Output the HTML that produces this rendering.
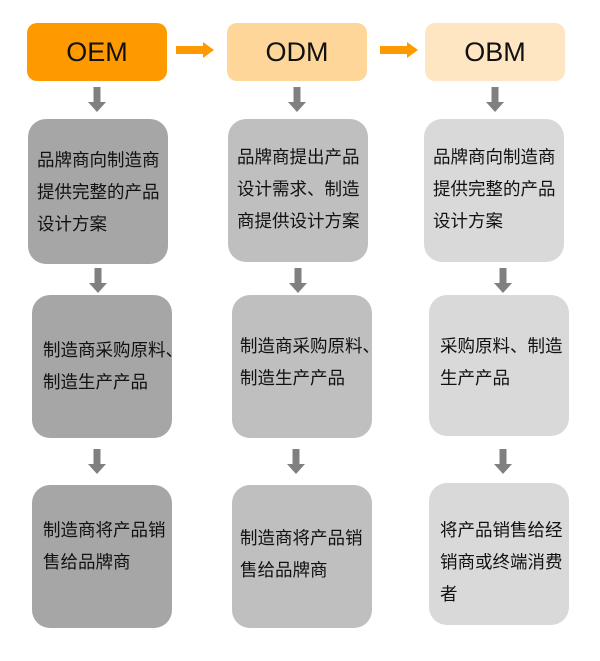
<!DOCTYPE html>
<html><head><meta charset="utf-8"><style>
body{margin:0;width:600px;height:661px;background:#fff;position:relative;overflow:hidden;font-family:"Liberation Sans","Noto Sans CJK SC",sans-serif}
.b{position:absolute;border-radius:18px}
.h{position:absolute;border-radius:10px;height:58px;width:140px;top:23px;font-size:27px;color:#111;text-align:center;line-height:58px}
.t{position:absolute;font-size:17.5px;line-height:32px;color:#111;white-space:nowrap}
</style></head><body>
<div class="h" style="left:27px;background:#ff9900">OEM</div>
<div class="h" style="left:227px;background:#ffd699">ODM</div>
<div class="h" style="left:425px;background:#ffe6c2">OBM</div>
<svg width="600" height="661" style="position:absolute;left:0;top:0">
<g fill="#ff9900">
<rect x="176" y="46" width="28" height="8"/><polygon points="203,42 214,50 203,58"/>
<rect x="380" y="46" width="28" height="8"/><polygon points="407,42 418,50 407,58"/>
</g>
<g fill="#808080">
<g transform="translate(97,87)"><rect x="-3.5" y="0" width="7" height="16"/><polygon points="-9,15 9,15 0,25"/></g>
<g transform="translate(297,87)"><rect x="-3.5" y="0" width="7" height="16"/><polygon points="-9,15 9,15 0,25"/></g>
<g transform="translate(495,87)"><rect x="-3.5" y="0" width="7" height="16"/><polygon points="-9,15 9,15 0,25"/></g>
<g transform="translate(98,268)"><rect x="-3.5" y="0" width="7" height="16"/><polygon points="-9,15 9,15 0,25"/></g>
<g transform="translate(298,268)"><rect x="-3.5" y="0" width="7" height="16"/><polygon points="-9,15 9,15 0,25"/></g>
<g transform="translate(503,268)"><rect x="-3.5" y="0" width="7" height="16"/><polygon points="-9,15 9,15 0,25"/></g>
<g transform="translate(97,449)"><rect x="-3.5" y="0" width="7" height="16"/><polygon points="-9,15 9,15 0,25"/></g>
<g transform="translate(296,449)"><rect x="-3.5" y="0" width="7" height="16"/><polygon points="-9,15 9,15 0,25"/></g>
<g transform="translate(503,449)"><rect x="-3.5" y="0" width="7" height="16"/><polygon points="-9,15 9,15 0,25"/></g>
</g></svg>
<div class="b" style="left:28px;top:119px;width:140px;height:145px;background:#a6a6a6"></div>
<div class="b" style="left:228px;top:119px;width:140px;height:143px;background:#bfbfbf"></div>
<div class="b" style="left:424px;top:119px;width:140px;height:143px;background:#d9d9d9"></div>
<div class="b" style="left:32px;top:295px;width:140px;height:143px;background:#a6a6a6"></div>
<div class="b" style="left:232px;top:295px;width:140px;height:143px;background:#bfbfbf"></div>
<div class="b" style="left:429px;top:295px;width:140px;height:141px;background:#d9d9d9"></div>
<div class="b" style="left:32px;top:485px;width:140px;height:143px;background:#a6a6a6"></div>
<div class="b" style="left:232px;top:485px;width:140px;height:143px;background:#bfbfbf"></div>
<div class="b" style="left:429px;top:483px;width:140px;height:142px;background:#d9d9d9"></div>
<div class="t" style="left:37px;top:144px">品牌商向制造商<br>提供完整的产品<br>设计方案</div>
<div class="t" style="left:237px;top:141px">品牌商提出产品<br>设计需求、制造<br>商提供设计方案</div>
<div class="t" style="left:433px;top:141px">品牌商向制造商<br>提供完整的产品<br>设计方案</div>
<div class="t" style="left:43px;top:334px">制造商采购原料、<br>制造生产产品</div>
<div class="t" style="left:240px;top:330px">制造商采购原料、<br>制造生产产品</div>
<div class="t" style="left:440px;top:330px">采购原料、制造<br>生产产品</div>
<div class="t" style="left:43px;top:514px">制造商将产品销<br>售给品牌商</div>
<div class="t" style="left:240px;top:522px">制造商将产品销<br>售给品牌商</div>
<div class="t" style="left:440px;top:514px">将产品销售给经<br>销商或终端消费<br>者</div>
</body></html>
